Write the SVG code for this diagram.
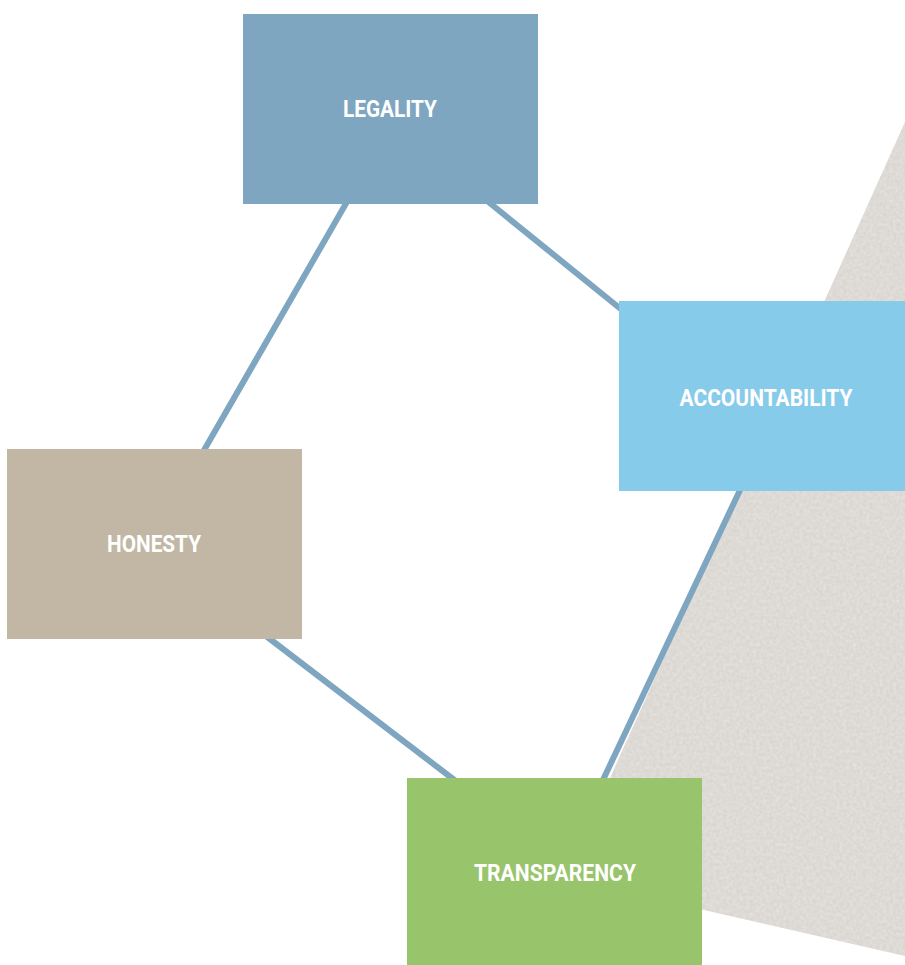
<svg xmlns="http://www.w3.org/2000/svg" width="905" height="965" viewBox="0 0 905 965">
<defs>
<filter id="grain" x="0" y="0" width="100%" height="100%">
<feTurbulence type="fractalNoise" baseFrequency="0.3" numOctaves="2" seed="3" result="n"/>
<feColorMatrix in="n" type="matrix" values="0 0 0 0 0.93  0 0 0 0 0.92  0 0 0 0 0.90  0 0 0 0.6 -0.15" result="c"/>
<feComposite in="c" in2="SourceGraphic" operator="in" result="t"/>
<feMerge><feMergeNode in="SourceGraphic"/><feMergeNode in="t"/></feMerge>
</filter>
</defs>
<style>
.lbl{font-family:Roboto,"Liberation Sans",sans-serif;font-weight:700;font-size:24px;fill:#ffffff;text-anchor:middle}
.conn{stroke:#7ea6c0;stroke-width:6;fill:none}
</style>
<rect width="905" height="965" fill="#ffffff"/>
<polygon points="905,122 565,878 905,956" fill="#d9d5d0" filter="url(#grain)"/>
<g id="connectors">
<line class="conn" x1="348" y1="200" x2="203" y2="452"/>
<line class="conn" x1="486" y1="200" x2="622" y2="310"/>
<line class="conn" x1="266" y1="636" x2="457" y2="782"/>
<line class="conn" x1="741" y1="488" x2="602" y2="782"/>
</g>
<g id="legality">
<rect x="243" y="14" width="295" height="190" fill="#7ea6c0"/>
<text class="lbl" x="390" y="117" textLength="94" lengthAdjust="spacingAndGlyphs">LEGALITY</text>
</g>
<g id="accountability">
<rect x="619" y="301" width="286" height="190" fill="#87cbeb"/>
<text class="lbl" x="766" y="406" textLength="173" lengthAdjust="spacingAndGlyphs">ACCOUNTABILITY</text>
</g>
<g id="honesty">
<rect x="7" y="449" width="295" height="190" fill="#c2b7a5"/>
<text class="lbl" x="154" y="552" textLength="94" lengthAdjust="spacingAndGlyphs">HONESTY</text>
</g>
<g id="transparency">
<rect x="407" y="778" width="295" height="187" fill="#98c46b"/>
<text class="lbl" x="555" y="881" textLength="162" lengthAdjust="spacingAndGlyphs">TRANSPARENCY</text>
</g>
</svg>
